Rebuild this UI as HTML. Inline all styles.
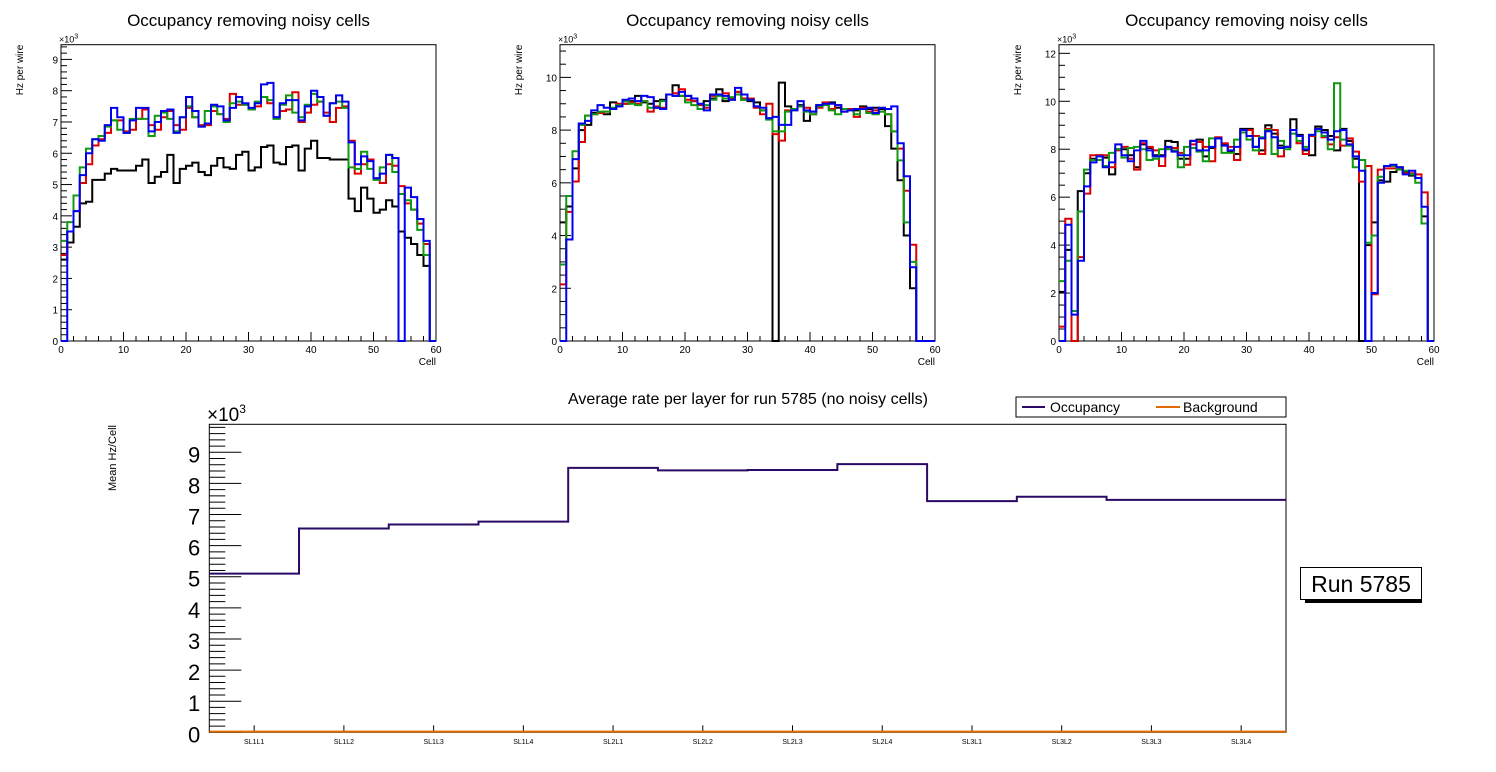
<!DOCTYPE html>
<html><head><meta charset="utf-8"><style>
html,body{margin:0;padding:0;background:#fff;}
svg{display:block;font-family:"Liberation Sans",sans-serif;}
</style></head><body>
<svg id="s" width="1496" height="772" viewBox="0 0 1496 772" xmlns="http://www.w3.org/2000/svg"></svg>
<script>
// ---- data: top-left chart ----
const c1Black=[2.6,3.15,3.65,4.4,4.45,5.15,5.15,5.35,5.5,5.45,5.45,5.45,5.6,5.8,5.05,5.25,5.4,5.95,5.05,5.5,5.6,5.7,5.4,5.3,5.6,5.85,5.55,5.5,5.95,6.05,5.45,5.55,6.2,6.25,5.7,5.65,6.2,6.25,5.45,6.15,6.4,5.85,5.85,5.8,5.8,5.8,4.55,4.15,4.9,4.55,4.1,4.2,4.5,4.3,3.5,3.3,3.1,2.75,2.4,0];
const c1Red=[2.75,3.5,4.15,5.05,5.65,6.25,6.45,6.65,7.05,7.05,6.7,6.75,7.1,7.4,6.9,6.75,7.15,7.35,6.9,6.75,7.45,7.15,6.9,6.9,7.35,7.25,7.1,7.9,7.55,7.55,7.4,7.5,7.8,7.6,7.15,7.35,7.4,7.95,7.0,7.3,7.55,7.65,7.3,7.0,7.45,7.5,6.4,5.35,5.65,5.8,5.2,5.05,5.65,5.6,4.95,4.4,4.2,3.75,3.1,0];
const c1Green=[3.2,3.8,4.65,5.55,6.15,6.45,6.55,6.85,7.05,6.75,6.65,7.1,7.1,7.1,6.55,7.2,7.3,7.1,6.7,7.15,7.5,7.15,6.85,7.35,7.5,7.25,7.0,7.6,7.65,7.55,7.4,7.65,7.8,7.7,7.1,7.55,7.85,7.3,7.15,7.55,7.9,7.65,7.2,7.6,7.65,7.45,5.55,5.5,6.05,5.5,5.15,5.55,5.95,5.4,4.7,4.5,4.2,3.55,2.75,0];
const c1Blue=[0,3.5,4.15,5.3,6.0,6.45,6.4,6.9,7.45,7.15,6.65,7.05,7.45,7.45,6.7,7.0,7.35,7.4,6.65,7.15,7.8,7.35,6.85,6.95,7.55,7.5,7.05,7.45,7.8,7.6,7.45,7.6,8.2,8.25,7.15,7.6,7.7,7.7,7.05,7.5,8.0,7.8,7.2,7.6,7.85,7.65,6.35,5.65,5.9,5.75,5.2,5.35,5.95,5.85,0,4.9,4.6,3.9,3.2,0];
// ---- data: top-middle chart ----
const c2Black=[4.5,5.1,6.55,8.0,8.2,8.65,8.65,8.6,9.05,8.95,9.0,9.1,9.3,9.05,9.0,9.1,9.15,9.35,9.7,9.3,9.3,9.1,8.8,9.1,9.2,9.55,9.1,9.15,9.45,9.15,9.1,9.05,8.75,8.45,0,9.8,8.9,8.8,8.95,8.35,8.7,8.95,9.0,9.05,8.85,8.8,8.8,8.75,8.9,8.8,8.85,8.8,8.15,7.3,6.1,4.0,2.0,0,0,0];
const c2Red=[2.15,4.9,6.05,7.55,8.55,8.6,8.65,8.7,8.8,9.0,9.0,9.05,9.0,9.1,8.7,8.9,8.85,9.35,9.4,9.55,9.15,9.1,8.95,8.85,9.3,9.35,9.4,9.2,9.45,9.2,9.2,8.85,8.6,9.0,7.85,7.6,8.75,8.8,8.9,8.85,8.6,8.85,9.05,8.8,8.95,8.7,8.8,8.5,8.85,8.7,8.75,8.7,8.6,7.95,7.3,5.7,3.65,0,0,0];
const c2Green=[2.9,5.5,7.2,8.2,8.55,8.6,8.7,8.7,8.85,8.95,9.1,9.0,8.95,9.1,8.85,8.85,9.1,9.35,9.3,9.3,9.05,8.95,8.8,8.95,9.15,9.3,9.2,9.25,9.35,9.15,9.15,8.9,8.75,8.4,7.95,7.95,8.7,8.8,8.9,8.7,8.6,8.9,8.95,8.75,8.6,8.8,8.75,8.6,8.8,8.65,8.6,8.7,8.6,7.95,6.85,4.5,3.0,0,0,0];
const c2Blue=[0,3.85,6.9,8.25,8.35,8.75,8.95,8.85,8.8,8.9,9.15,9.2,9.1,9.3,9.25,8.85,8.8,9.35,9.3,9.45,9.3,9.2,9.0,8.75,9.35,9.35,9.3,9.15,9.6,9.35,9.15,8.9,8.85,8.45,8.5,8.2,8.2,8.75,9.1,8.75,8.7,8.95,9.0,9.0,8.95,8.7,8.75,8.8,8.8,8.85,8.65,8.85,8.8,8.9,7.5,6.25,2.8,0,0,0];
// ---- data: top-right chart ----
const c3Black=[2.05,3.8,0,6.25,7.0,7.6,7.75,7.65,6.95,8.0,8.0,7.75,7.25,8.2,8.05,7.75,7.75,8.35,8.3,7.6,7.6,8.35,8.4,7.7,8.05,8.45,8.2,7.9,7.8,8.85,8.85,8.1,7.95,9.0,8.65,8.15,8.1,9.25,8.6,7.95,7.75,8.95,8.8,8.55,7.95,8.85,8.35,7.6,0,4.0,4.95,6.7,6.65,7.05,7.25,7.05,6.9,6.8,5.2,0];
const c3Red=[0.6,5.1,0,3.5,6.15,7.75,7.75,7.75,7.25,7.95,8.1,7.6,7.15,8.25,8.1,7.95,7.3,8.05,8.05,7.85,7.35,8.2,8.3,8.1,7.5,8.5,8.25,8.1,7.55,8.8,8.8,8.55,7.8,8.85,8.8,7.7,8.1,8.8,8.25,7.8,8.55,8.85,8.5,8.2,8.5,8.15,8.45,7.9,6.65,7.3,1.95,7.15,7.2,7.2,7.2,7.0,7.0,6.95,6.2,0];
const c3Green=[2.5,3.35,1.25,5.4,7.15,7.55,7.55,7.3,7.85,8.0,7.65,8.05,8.1,8.0,7.55,7.6,8.0,8.0,7.95,7.25,8.1,8.05,7.9,7.5,8.45,8.45,7.85,7.85,8.4,8.7,8.4,7.95,8.5,8.8,7.8,8.35,8.0,8.65,8.35,8.1,8.6,8.75,8.55,8.0,10.75,8.4,8.15,7.25,7.55,4.1,4.4,6.85,7.3,7.3,7.15,7.1,6.95,6.6,4.9,0];
const c3Blue=[0,4.85,1.1,3.35,6.45,7.45,7.7,7.25,7.45,8.2,7.75,7.5,7.95,8.35,7.95,7.7,7.7,8.1,7.9,7.75,7.75,8.35,7.95,7.95,8.1,8.45,8.15,7.95,8.1,8.8,8.55,8.1,8.45,8.75,8.5,8.05,8.1,8.8,8.55,8.0,8.6,8.85,8.7,8.4,8.75,8.8,8.2,7.7,7.1,0,2.0,6.6,7.3,7.35,7.25,6.95,7.1,6.8,5.6,0];
// ---- data: bottom chart ----
const layers=["SL1L1","SL1L2","SL1L3","SL1L4","SL2L1","SL2L2","SL2L3","SL2L4","SL3L1","SL3L2","SL3L3","SL3L4"];
const occupancy=[5.1,6.55,6.68,6.77,8.5,8.42,8.43,8.62,7.43,7.57,7.47,7.47];
const background=[0.02,0.02,0.02,0.02,0.02,0.02,0.02,0.02,0.02,0.02,0.02,0.02];

const NS="http://www.w3.org/2000/svg";
const svg=document.getElementById('s');
function mk(tag,attrs,parent){const e=document.createElementNS(NS,tag);for(const k in attrs)e.setAttribute(k,attrs[k]);(parent||svg).appendChild(e);return e;}

function topChart(idx,L,R,T,B,ymax,major,minor,series){
  const g=mk('g',{});
  
  
  const xs=v=>L+(R-L)*v/60, ys=v=>B-(B-T)*v/ymax;
  const t=mk('text',{x:(L+R)/2,y:26,'text-anchor':'middle','font-size':17},g);
  t.textContent='Occupancy removing noisy cells';
  
  
  const fr=mk('rect',{x:L,y:T,width:R-L,height:B-T,fill:'none',stroke:'#000','stroke-width':1},g);
  
  
  // y ticks
  for(let v=0;v<=ymax+1e-9;v+=minor){
    const isMaj=Math.abs(v/major-Math.round(v/major))<1e-6;
    mk('line',{x1:L,x2:L+(isMaj?11:6),y1:ys(v),y2:ys(v),stroke:'#000','stroke-width':1},g);
    if(isMaj){const tl=mk('text',{x:L-3,y:ys(v)+4,'text-anchor':'end','font-size':10},g);tl.textContent=Math.round(v);
      
      }
  }
  for(let v=0;v<=60;v+=2){
    const isMaj=v%10===0;
    mk('line',{x1:xs(v),x2:xs(v),y1:B,y2:B-(isMaj?9:5),stroke:'#000','stroke-width':1},g);
    if(isMaj){const tl=mk('text',{x:xs(v),y:B+12,'text-anchor':'middle','font-size':10},g);tl.textContent=v;
      
      }
  }
  const ex=mk('text',{x:L-2,y:T-2,'font-size':9},g);ex.innerHTML='×10<tspan dy="-4" font-size="7">3</tspan>';
  
  
  const yt=mk('text',{transform:`translate(${L-38},${T+20}) rotate(-90)`,'text-anchor':'end','font-size':10,x:20,y:0},g);
  yt.textContent='Hz per wire';
  
  
  const xt=mk('text',{x:R,y:B+24,'text-anchor':'end','font-size':10},g);xt.textContent='Cell';
  
  
  const cols=['#000000','#dd0000','#119911','#0000ee'];
  series.forEach((arr,si)=>{
    let d='M'+xs(0)+','+ys(arr[0]);
    for(let i=0;i<arr.length;i++){d+=' L'+xs(i)+','+ys(arr[i])+' L'+xs(i+1)+','+ys(arr[i]);}
    const p=mk('path',{d:d,fill:'none',stroke:cols[si],'stroke-width':2},g);
    
    
  });
}
topChart(1,61,436,44.7,341,9.47,1,0.2,[c1Black,c1Red,c1Green,c1Blue]);
topChart(2,560,935,44.7,341,11.24,2,0.5,[c2Black,c2Red,c2Green,c2Blue]);
topChart(3,1059,1434,44.7,341,12.36,2,0.5,[c3Black,c3Red,c3Green,c3Blue]);

// bottom chart
(function(){
  const L=209.3,R=1286,T=424.3,B=732.3,ymax=9.9,n=layers.length;
  const g=mk('g',{});
  
  
  const xs=i=>L+(R-L)*i/n, ys=v=>B-(B-T)*v/ymax;
  const t=mk('text',{x:748,y:404,'text-anchor':'middle','font-size':16},g);
  t.textContent='Average rate per layer for run 5785 (no noisy cells)';
  
  
  const fr=mk('rect',{x:L,y:T,width:R-L,height:B-T,fill:'none',stroke:'#000','stroke-width':1},g);
  
  
  for(let k=0;k<=49;k++){
    const v=k*0.2,isMaj=k%5===0;
    mk('line',{x1:L,x2:L+(isMaj?32:16),y1:ys(v),y2:ys(v),stroke:'#000','stroke-width':1},g);
    if(isMaj){const tl=mk('text',{x:L-9,y:ys(v)+10,'text-anchor':'end','font-size':22},g);tl.textContent=k/5;
      
      }
  }
  layers.forEach((lab,i)=>{
    const cx=(xs(i)+xs(i+1))/2;
    mk('line',{x1:cx,x2:cx,y1:B,y2:B-7,stroke:'#000','stroke-width':1},g);
    const tl=mk('text',{x:cx,y:744,'text-anchor':'middle','font-size':7},g);tl.textContent=lab;
    
    
  });
  const ex=mk('text',{x:207,y:421,'font-size':19},g);ex.innerHTML='×10<tspan dy="-8" font-size="12">3</tspan>';
  
  
  const yt=mk('text',{transform:'translate(116,425) rotate(-90)','text-anchor':'end','font-size':11},g);
  yt.textContent='Mean Hz/Cell';
  
  
  function step(arr,col,name){
    let d='M'+xs(0)+','+ys(arr[0]);
    for(let i=0;i<arr.length;i++){d+=' L'+xs(i)+','+ys(arr[i])+' L'+xs(i+1)+','+ys(arr[i]);}
    const p=mk('path',{d:d,fill:'none',stroke:col,'stroke-width':2},g);
    
    
  }
  step(occupancy,'#2a0a66','occupancy-line');
  step(background,'#e06a00','background-line');
  // legend
  const lg=mk('g',{},g);
  
  
  mk('rect',{x:1016,y:397,width:270,height:20,fill:'#fff',stroke:'#000','stroke-width':1},lg);
  mk('line',{x1:1022,x2:1045,y1:407,y2:407,stroke:'#2a0a66','stroke-width':2},lg);
  const l1=mk('text',{x:1050,y:412,'font-size':14},lg);l1.textContent='Occupancy';
  
  
  mk('line',{x1:1156,x2:1180,y1:407,y2:407,stroke:'#e06a00','stroke-width':2},lg);
  const l2=mk('text',{x:1183,y:412,'font-size':14},lg);l2.textContent='Background';
  
  
  // run box
  const rb=mk('g',{});
  
  
  mk('rect',{x:1305,y:599,width:117,height:4,fill:'#000'},rb);
  mk('rect',{x:1300.5,y:567.5,width:121,height:32,fill:'#fff',stroke:'#000','stroke-width':1},rb);
  const rt=mk('text',{x:1361,y:592,'text-anchor':'middle','font-size':23},rb);rt.textContent='Run 5785';
})();
</script>
</body></html>
